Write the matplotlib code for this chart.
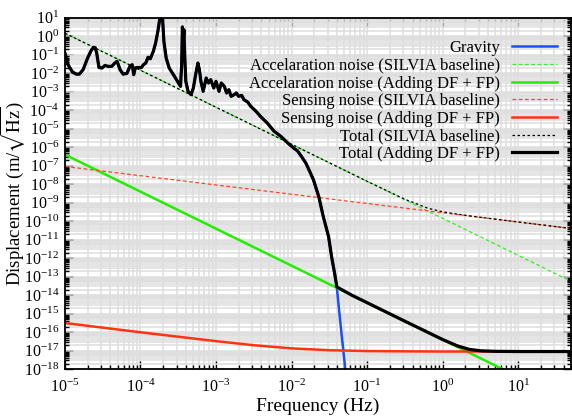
import matplotlib
matplotlib.use("Agg")
import matplotlib.pyplot as plt
from matplotlib.ticker import LogLocator, NullFormatter
import numpy as np

plt.rcParams["font.family"] = ["Liberation Serif", "DejaVu Serif"]
plt.rcParams["mathtext.fontset"] = "stix"
plt.rcParams["axes.unicode_minus"] = False

# gravity spectrum as log10(freq), log10(displacement)
grav_logf = [
    -5.00, -4.96, -4.90, -4.85, -4.81, -4.76, -4.70, -4.65, -4.62, -4.60,
    -4.58, -4.55, -4.51, -4.47, -4.43, -4.38, -4.34, -4.31, -4.27, -4.23,
    -4.18, -4.14, -4.11, -4.09, -4.07, -4.03, -3.99, -3.96, -3.93, -3.90,
    -3.87, -3.83, -3.80, -3.77, -3.75, -3.73, -3.71, -3.69, -3.66, -3.62,
    -3.55, -3.51, -3.47, -3.455, -3.445, -3.435, -3.425, -3.415, -3.40, -3.37,
    -3.33, -3.30, -3.27, -3.24, -3.22, -3.20, -3.17, -3.13, -3.10, -3.07,
    -3.03, -3.00, -2.96, -2.93, -2.89, -2.86, -2.83, -2.80, -2.76, -2.73,
    -2.70, -2.66, -2.63, -2.58, -2.54, -2.47, -2.41, -2.32, -2.23, -2.14,
    -2.05, -1.97, -1.92, -1.86, -1.81, -1.76, -1.71, -1.64, -1.58, -1.51,
    -1.47, -1.43, -1.40, -1.385, -1.34, -1.28,
]
grav_logd = [
    -0.92, -1.54, -1.94, -2.05, -2.05, -1.81, -1.18, -0.75, -0.60, -0.62,
    -0.91, -1.69, -1.72, -1.58, -1.63, -1.63, -1.45, -1.36, -1.81, -2.05,
    -2.01, -1.63, -1.54, -2.08, -1.72, -1.69, -1.70, -1.54, -1.45, -1.14,
    -1.22, -0.82, -0.37, 0.26, 0.80, 1.20, 1.10, -0.28, -1.18, -1.72,
    -2.17, -2.44, -2.71, -1.54, 0.50, -0.30, 0.35, -1.00, -2.44, -2.98,
    -3.16, -2.80, -2.08, -1.45, -1.81, -2.44, -2.98, -2.26, -2.53, -2.35,
    -2.80, -2.44, -2.98, -2.53, -2.71, -3.07, -2.89, -3.25, -3.16, -3.07,
    -3.25, -3.20, -3.43, -3.56, -3.79, -4.06, -4.34, -4.70, -5.14, -5.42,
    -5.77, -6.05, -6.20, -6.55, -6.86, -7.30, -7.76, -8.66, -9.74, -10.82,
    -11.90, -12.80, -13.55, -14.20, -16.00, -18.30,
]
knee_logf = -1.40

acc_base_logf = [-5.0, 1.7]
acc_base_logd = [0.16, -13.24]

acc_new_logf = [-5.0, 1.7]
acc_new_logd = [-6.40, -19.80]

sens_base_logf = [-5.0, 1.7]
sens_base_logd = [-7.04, -10.39]

sens_new_logf = [-5.0, -4.0, -3.0, -2.5, -2.0, -1.5, -1.0, -0.5, 0.0, 1.7]
sens_new_logd = [-15.50, -16.00, -16.48, -16.70, -16.87, -16.97, -17.015, -17.03, -17.04, -17.04]

total_base_logf = [-5.0, -1.0, -0.5, -0.2, 0.0, 0.3, 0.7, 1.7]
total_base_logd = [0.16, -7.84, -8.81, -9.29, -9.49, -9.68, -9.89, -10.39]

# after the gravity drop-off the total follows the other noises
total_tail_logf = [-1.2, -1.0, -0.5, 0.0, 0.2, 0.35, 0.5, 0.7, 1.0, 1.7]
total_tail_logd = [-14.00, -14.40, -15.40, -16.39, -16.74, -16.92, -17.00, -17.03, -17.04, -17.04]


def pw(values):
    return 10.0 ** np.asarray(values, dtype=float)


grav_f = pw(grav_logf)
grav_d = pw(grav_logd)
keep = np.asarray(grav_logf) <= knee_logf
total_f = np.concatenate([grav_f[keep], pw(total_tail_logf)])
total_d = np.concatenate([grav_d[keep], pw(total_tail_logd)])

fig = plt.figure(figsize=(5.72, 4.16), dpi=100)
ax = fig.add_axes([0.1136, 0.1123, 0.8844, 0.8452])

ax.plot(grav_f, grav_d, color="#1a4dff", lw=1.8, label="Gravity")
ax.plot(pw(acc_base_logf), pw(acc_base_logd), color="#33ee22", lw=0.9,
        dashes=(3, 2), label="Accelaration noise (SILVIA baseline)")
ax.plot(pw(acc_new_logf), pw(acc_new_logd), color="#22ee00", lw=1.8,
        label="Accelaration noise (Adding DF + FP)")
ax.plot(pw(sens_base_logf), pw(sens_base_logd), color="#ff4422", lw=0.9,
        dashes=(3, 2), label="Sensing noise (SILVIA baseline)")
ax.plot(pw(sens_new_logf), pw(sens_new_logd), color="#ff3311", lw=1.8,
        label="Sensing noise (Adding DF + FP)")
ax.plot(pw(total_base_logf), pw(total_base_logd), color="black", lw=0.9,
        dashes=(2, 2), label="Total (SILVIA baseline)")
ax.plot(total_f, total_d, color="black", lw=2.3, label="Total (Adding DF + FP)")

ax.set_xscale("log")
ax.set_yscale("log")
ax.set_xlim(1e-5, 50)
ax.set_ylim(1e-18, 10)

ax.xaxis.set_major_locator(LogLocator(base=10, numticks=30))
ax.xaxis.set_minor_locator(LogLocator(base=10, subs=np.arange(2, 10), numticks=30))
ax.yaxis.set_major_locator(LogLocator(base=10, numticks=40))
ax.yaxis.set_minor_locator(LogLocator(base=10, subs=np.arange(2, 10), numticks=40))
ax.xaxis.set_minor_formatter(NullFormatter())
ax.yaxis.set_minor_formatter(NullFormatter())

ax.grid(True, which="both", color="#dedede", lw=1.1)
ax.set_axisbelow(True)
ax.tick_params(which="both", direction="in", top=True, right=True, labelsize=11.5)
ax.tick_params(axis="x", pad=7)
ax.tick_params(axis="y", pad=4)
ax.tick_params(which="major", length=6, width=1)
ax.tick_params(which="minor", length=3, width=1)
for spine in ax.spines.values():
    spine.set_linewidth(1.3)

ax.set_xlabel("Frequency (Hz)", fontsize=14)
ax.xaxis.set_label_coords(0.5, -0.08)
ax.set_ylabel(r"Displacement (m/$\sqrt{\mathrm{Hz}}$)", fontsize=13.5)
ax.yaxis.set_label_coords(-0.076, 0.5)

ax.legend(loc="upper right", bbox_to_anchor=(0.985, 0.955), frameon=False,
          markerfirst=False, fontsize=12, handlelength=2.7, handletextpad=0.7,
          labelspacing=0.1, borderaxespad=0.0)

fig.savefig("out.png", dpi=100)
